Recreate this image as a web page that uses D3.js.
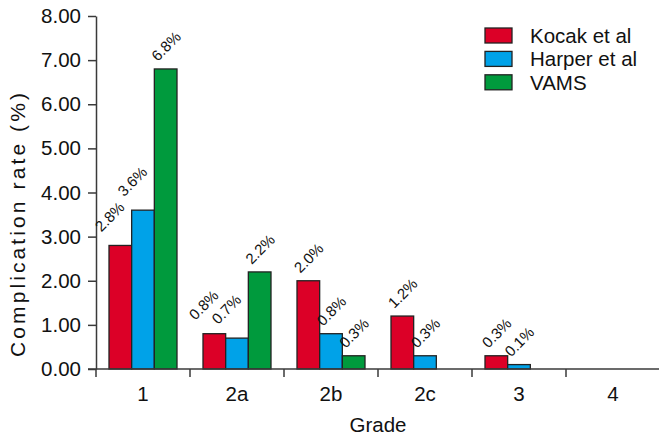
<!DOCTYPE html>
<html>
<head>
<meta charset="utf-8">
<script src="https://cdn.jsdelivr.net/npm/d3@7"></script>
<style>
  html, body { margin: 0; padding: 0; background: #fff; }
  svg { display: block; font-family: "Liberation Sans", Arial, sans-serif; }
</style>
</head>
<body>
<svg id="chart" width="659" height="435"></svg>
<script>
// ---- data ----
const categories = ["1", "2a", "2b", "2c", "3", "4"];
const seriesNames = ["Kocak et al", "Harper et al", "VAMS"];
const kocak  = [2.8, 0.8, 2.0, 1.2, 0.3, null];
const harper = [3.6, 0.7, 0.8, 0.3, 0.1, null];
const vams   = [6.8, 2.2, 0.3, null, null, null];
const yTicks = [0, 1, 2, 3, 4, 5, 6, 7, 8];
const yTitle = "Complication rate (%)";
const xTitle = "Grade";

(function () {
const seriesValues = [kocak, harper, vams];
const colors = ["#dc0027", "#00a2e8", "#009a3d"];

const svg = d3.select("#chart");
const mLeft = 96, mRight = 660, mTop = 16, mBottom = 369;

const y = d3.scaleLinear().domain([0, 8]).range([mBottom, mTop]);
const x0 = d3.scaleBand().domain(categories).range([mLeft, mRight]).padding(0);
const x1 = d3.scaleBand().domain(seriesNames).range([13, x0.bandwidth() - 13]).padding(0);

const axisColor = "#3a3a3a";
const bigFont = 20.5;

// y axis
const yAxis = svg.append("g")
  .attr("transform", `translate(${mLeft},0)`)
  .call(d3.axisLeft(y).tickValues(yTicks).tickFormat(d3.format(".2f"))
        .tickSize(8).tickSizeOuter(0).tickPadding(7));
yAxis.select(".domain").attr("stroke", axisColor).attr("stroke-width", 1.5);
yAxis.selectAll(".tick line").attr("stroke", axisColor).attr("stroke-width", 1.5);
yAxis.selectAll(".tick text").attr("font-size", bigFont).attr("fill", "#111")
  .attr("font-family", "'Liberation Sans', Arial, sans-serif");

// bars
const bars = [];
categories.forEach((c, i) => {
  seriesNames.forEach((s, j) => {
    const v = seriesValues[j][i];
    if (v == null) return;
    const next = j + 1 < seriesNames.length ? seriesValues[j + 1][i] : null;
    bars.push({cat: c, series: s, j, v, next});
  });
});

svg.append("g").selectAll("rect").data(bars).join("rect")
  .attr("x", d => x0(d.cat) + x1(d.series))
  .attr("y", d => y(d.v))
  .attr("width", x1.bandwidth())
  .attr("height", d => y(0) - y(d.v))
  .attr("fill", d => colors[d.j])
  .attr("stroke", "#222")
  .attr("stroke-width", 1.3);

// value labels (rotated)
svg.append("g").selectAll("text").data(bars).join("text")
  .attr("transform", d => {
    const cx = x0(d.cat) + x1(d.series) + x1.bandwidth() / 2;
    const ty = y(d.v);
    const crowded = d.next != null && d.next >= d.v - 0.15;
    const dx = crowded ? -19 : -8;
    const dy = crowded ? -13 : -7;
    return `translate(${cx + dx},${ty + dy}) rotate(-45)`;
  })
  .attr("font-size", 15)
  .attr("fill", "#111")
  .text(d => d3.format(".1f")(d.v) + "%");

// x axis
const xg = svg.append("g");
xg.append("line")
  .attr("x1", mLeft - 8).attr("x2", mRight).attr("y1", mBottom).attr("y2", mBottom)
  .attr("stroke", axisColor).attr("stroke-width", 1.5);
const boundaries = categories.map(c => x0(c)).concat([x0.range()[1]]);
xg.selectAll("line.tick").data(boundaries).join("line")
  .attr("class", "tick")
  .attr("x1", d => d).attr("x2", d => d)
  .attr("y1", mBottom).attr("y2", mBottom + 8)
  .attr("stroke", axisColor).attr("stroke-width", 1.5);
xg.selectAll("text").data(categories).join("text")
  .attr("x", d => x0(d) + x0.bandwidth() / 2)
  .attr("y", 401)
  .attr("text-anchor", "middle")
  .attr("font-size", bigFont)
  .attr("fill", "#111")
  .text(d => d);

// axis titles
svg.append("text")
  .attr("x", (mLeft + mRight) / 2).attr("y", 432)
  .attr("text-anchor", "middle")
  .attr("font-size", bigFont).attr("fill", "#111")
  .text(xTitle);

svg.append("text")
  .attr("transform", `translate(25,225) rotate(-90)`)
  .attr("text-anchor", "middle")
  .attr("font-size", 21).attr("fill", "#111")
  .attr("textLength", 264).attr("lengthAdjust", "spacing")
  .text(yTitle);

// legend
const legend = svg.append("g").attr("transform", "translate(485,28)");
seriesNames.forEach((s, j) => {
  const g = legend.append("g").attr("transform", `translate(0,${j * 23.4})`);
  g.append("rect").attr("width", 27).attr("height", 15)
    .attr("fill", colors[j]).attr("stroke", "#222").attr("stroke-width", 1.3);
  g.append("text").attr("x", 45).attr("y", 15)
    .attr("font-size", bigFont).attr("fill", "#111").text(s);
});
})();
</script>
</body>
</html>
